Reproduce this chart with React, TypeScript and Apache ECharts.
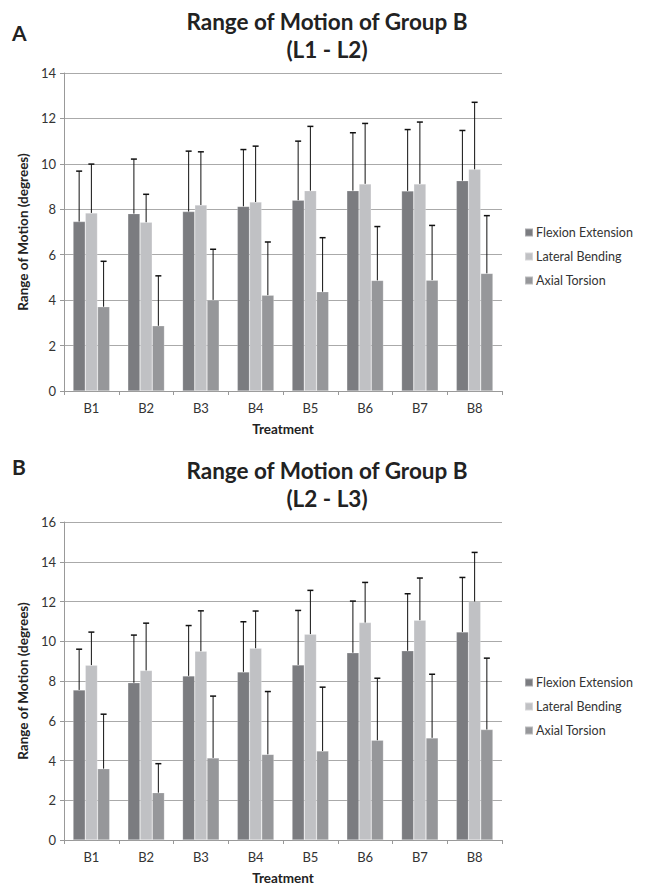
import React, { useEffect, useRef } from "react";
import * as echarts from "echarts";

const categories = ["B1", "B2", "B3", "B4", "B5", "B6", "B7", "B8"];
const seriesNames = ["Flexion Extension", "Lateral Bending", "Axial Torsion"];
const colors = ["#7b7c80", "#c0c1c4", "#96979a"];

// Chart A (L1 - L2)
const aFlex = [7.46, 7.81, 7.9, 8.13, 8.4, 8.82, 8.81, 9.26];
const aFlexErr = [9.68, 10.21, 10.56, 10.63, 11.0, 11.37, 11.51, 11.47];
const aLat = [7.84, 7.43, 8.19, 8.32, 8.82, 9.12, 9.12, 9.76];
const aLatErr = [9.99, 8.66, 10.53, 10.78, 11.65, 11.78, 11.84, 12.71];
const aAx = [3.71, 2.87, 4.01, 4.22, 4.37, 4.87, 4.88, 5.18];
const aAxErr = [5.71, 5.07, 6.24, 6.56, 6.75, 7.24, 7.29, 7.72];

// Chart B (L2 - L3)
const bFlex = [7.55, 7.91, 8.26, 8.46, 8.81, 9.42, 9.52, 10.47];
const bFlexErr = [9.6, 10.31, 10.79, 10.98, 11.55, 12.02, 12.39, 13.21];
const bLat = [8.8, 8.53, 9.5, 9.65, 10.36, 10.94, 11.06, 12.0];
const bLatErr = [10.46, 10.91, 11.53, 11.52, 12.56, 12.96, 13.18, 14.47];
const bAx = [3.59, 2.38, 4.13, 4.31, 4.48, 5.02, 5.14, 5.56];
const bAxErr = [6.33, 3.84, 7.24, 7.47, 7.69, 8.14, 8.34, 9.15];

const FONT = "Lato, 'Open Sans', sans-serif";
const GAP = 0.33;

export default function App() {
  const ref = useRef<HTMLDivElement>(null);
  useEffect(() => {
    if (!ref.current) return;
    const chart = echarts.init(ref.current, undefined, { renderer: "svg" });

    const gridDefs = [
      { top: 73, bottom: 886 - 391, title: "Range of Motion of Group B\n(L1 - L2)", letter: "A", max: 14,
        vals: [aFlex, aLat, aAx], errs: [aFlexErr, aLatErr, aAxErr], titleTop: 7, letterTop: 22, legendTop: 221 },
      { top: 522, bottom: 886 - 840, title: "Range of Motion of Group B\n(L2 - L3)", letter: "B", max: 16,
        vals: [bFlex, bLat, bAx], errs: [bFlexErr, bLatErr, bAxErr], titleTop: 456, letterTop: 456, legendTop: 671 },
    ];

    const series: any[] = [];
    gridDefs.forEach((g, gi) => {
      g.vals.forEach((vals, si) => {
        series.push({
          type: "bar",
          name: seriesNames[si],
          xAxisIndex: gi,
          yAxisIndex: gi,
          data: vals,
          barGap: "0%",
          barCategoryGap: GAP * 100 + "%",
          itemStyle: { color: colors[si], borderColor: "rgba(255,255,255,0.35)", borderWidth: 0.6 },
          silent: true,
        });
      });
      g.vals.forEach((vals, si) => {
        series.push({
          type: "custom",
          xAxisIndex: gi,
          yAxisIndex: gi,
          silent: true,
          z: 5,
          data: vals.map((v, i) => [i, v, g.errs[si][i]]),
          encode: { x: 0, y: [1, 2] },
          renderItem: (params: any, api: any) => {
            const cat = api.value(0);
            const v = api.value(1);
            const e = api.value(2);
            const c = api.coord([cat, v]);
            const t = api.coord([cat, e]);
            const cw = api.size([1, 0])[0];
            const bw = (cw * (1 - GAP)) / 3;
            const x = c[0] + (si - 1) * bw;
            return {
              type: "group",
              children: [
                { type: "line", shape: { x1: x, y1: c[1], x2: x, y2: t[1] }, style: { stroke: "#111", lineWidth: 1 } },
                { type: "line", shape: { x1: x - 3, y1: t[1], x2: x + 3, y2: t[1] }, style: { stroke: "#111", lineWidth: 1.5 } },
              ],
            };
          },
        });
      });
    });

    const option: any = {
      animation: false,
      textStyle: { fontFamily: FONT },
      title: gridDefs.flatMap((g) => [
        {
          text: g.title,
          left: 327,
          textAlign: "center",
          top: g.titleTop,
          padding: 0,
          textStyle: { fontFamily: FONT, fontSize: 22.5, fontWeight: "bold", color: "#222", lineHeight: 28 },
        },
        {
          text: g.letter,
          left: 12,
          top: g.letterTop,
          padding: 0,
          textStyle: { fontFamily: FONT, fontSize: 21, fontWeight: "bold", color: "#222" },
        },
      ]),
      legend: gridDefs.map((g) => ({
        orient: "vertical",
        left: 519,
        top: g.legendTop,
        itemWidth: 8,
        itemHeight: 8,
        itemGap: 11,
        icon: "rect",
        selectedMode: false,
        data: seriesNames,
        textStyle: { fontFamily: FONT, fontSize: 12.5, color: "#333", padding: [0, 0, 0, -2] },
      })),
      grid: gridDefs.map((g) => ({ left: 64, right: 645 - 502, top: g.top, bottom: g.bottom })),
      xAxis: gridDefs.map((g, gi) => ({
        type: "category",
        gridIndex: gi,
        data: categories,
        name: "Treatment",
        nameLocation: "middle",
        nameGap: 31,
        nameTextStyle: { fontFamily: FONT, fontSize: 13.5, fontWeight: "bold", color: "#222" },
        axisLine: { lineStyle: { color: "#999" } },
        axisTick: { show: true, length: 4, lineStyle: { color: "#999" } },
        axisLabel: { fontFamily: FONT, fontSize: 13, color: "#333", margin: 10 },
      })),
      yAxis: gridDefs.map((g, gi) => ({
        type: "value",
        gridIndex: gi,
        min: 0,
        max: g.max,
        interval: 2,
        name: "Range of Motion (degrees)",
        nameLocation: "middle",
        nameGap: 34,
        nameTextStyle: { fontFamily: FONT, fontSize: 13.5, fontWeight: "bold", color: "#222" },
        axisLine: { show: true, lineStyle: { color: "#999" } },
        axisTick: { show: true, length: 4, lineStyle: { color: "#999" } },
        axisLabel: { fontFamily: FONT, fontSize: 13, color: "#333", margin: 8 },
        splitLine: { lineStyle: { color: "#aaa" } },
      })),
      series,
    };
    chart.setOption(option);
    return () => chart.dispose();
  }, []);
  return (
    <div
      ref={ref}
      style={{ position: "absolute", left: 0, top: 0, width: 645, height: 886, background: "#fff" }}
    />
  );
}
